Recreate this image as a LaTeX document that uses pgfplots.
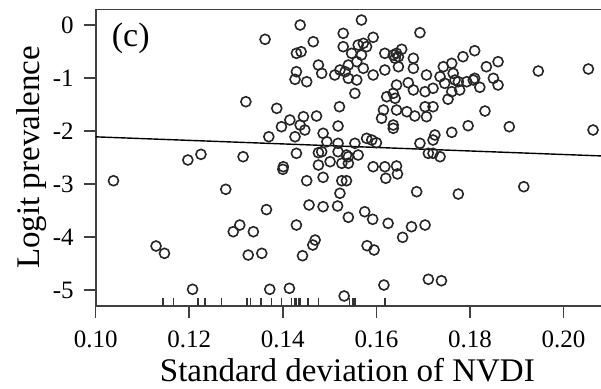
\documentclass[border=0pt]{standalone}
\usepackage{pgfplots}
\pgfplotsset{compat=1.18}
\usepackage{pgfplotstable}
\usepackage{fontspec}
\setmainfont{Liberation Serif}

\pgfplotstableread{
x y
0.1362 -0.27
0.1321 -1.447
0.1370 -2.108
0.1197 -2.547
0.1225 -2.44
0.1315 -2.485
0.1437 0.0
0.1568 0.094
0.1529 -0.157
0.1593 -0.232
0.1465 -0.315
0.1693 -0.145
0.1429 -0.534
0.1439 -0.504
0.1529 -0.409
0.1561 -0.377
0.1572 -0.345
0.1579 -0.409
0.1547 -0.534
0.1568 -0.566
0.1558 -0.692
0.1618 -0.534
0.1636 -0.566
0.1643 -0.534
0.1654 -0.458
0.1640 -0.628
0.1647 -0.598
0.1679 -0.628
0.1476 -0.755
0.1429 -0.881
0.1483 -0.911
0.1511 -0.943
0.1522 -0.849
0.1540 -0.755
0.1533 -0.881
0.1572 -0.817
0.1593 -0.943
0.1618 -0.849
0.1647 -0.787
0.1679 -0.817
0.1707 -0.943
0.1426 -1.025
0.1451 -1.07
0.1540 -1.006
0.1558 -1.038
0.1554 -1.289
0.1643 -1.132
0.1668 -1.089
0.1622 -1.353
0.1636 -1.289
0.1640 -1.383
0.1679 -1.226
0.1704 -1.258
0.1387 -1.572
0.1521 -1.542
0.1615 -1.604
0.1643 -1.604
0.1665 -1.636
0.1704 -1.542
0.1611 -1.760
0.1682 -1.717
0.1707 -1.730
0.1415 -1.792
0.1444 -1.730
0.1472 -1.717
0.1397 -1.919
0.1437 -1.887
0.1447 -1.981
0.1518 -1.906
0.1636 -1.887
0.1636 -1.949
0.1426 -2.108
0.1486 -2.043
0.1579 -2.138
0.1590 -2.170
0.1600 -2.221
0.1693 -2.232
0.1494 -2.202
0.1518 -2.232
0.1554 -2.232
0.1429 -2.421
0.1476 -2.409
0.1483 -2.391
0.1518 -2.391
0.1536 -2.453
0.1540 -2.485
0.1561 -2.453
0.1401 -2.674
0.1476 -2.642
0.1501 -2.579
0.1526 -2.609
0.1540 -2.609
0.1593 -2.674
0.1618 -2.674
0.1643 -2.660
0.1711 -2.421
0.1810 -0.485
0.1785 -0.598
0.1761 -0.723
0.1743 -0.787
0.1860 -0.692
0.1835 -0.787
0.1946 -0.868
0.2053 -0.830
0.1736 -0.975
0.1746 -1.100
0.1764 -0.911
0.1768 -1.038
0.1775 -1.070
0.1793 -1.070
0.1807 -1.038
0.1810 -1.006
0.1850 -1.006
0.1860 -1.132
0.1821 -1.175
0.1721 -1.194
0.1761 -1.258
0.1778 -1.226
0.1753 -1.400
0.1721 -1.542
0.1832 -1.623
0.1796 -1.900
0.1761 -2.025
0.1884 -1.919
0.2063 -1.981
0.1725 -2.075
0.1721 -2.170
0.1721 -2.421
0.1736 -2.485
0.1038 -2.938
0.1278 -3.100
0.1365 -3.483
0.1308 -3.774
0.1294 -3.900
0.1337 -3.900
0.1129 -4.170
0.1147 -4.308
0.1326 -4.340
0.1355 -4.308
0.1207 -4.987
0.1372 -4.987
0.1400 -2.723
0.1645 -2.81
0.1451 -2.938
0.1486 -2.874
0.1526 -2.938
0.1536 -2.938
0.1620 -2.892
0.1522 -3.175
0.1686 -3.145
0.1456 -3.396
0.1486 -3.428
0.1517 -3.415
0.1540 -3.628
0.1575 -3.523
0.1592 -3.666
0.1625 -3.742
0.1675 -3.806
0.1704 -3.774
0.1429 -3.774
0.1656 -4.006
0.1469 -4.057
0.1464 -4.151
0.1442 -4.353
0.1580 -4.164
0.1595 -4.245
0.1711 -4.798
0.1414 -4.968
0.1616 -4.906
0.1531 -5.113
0.1775 -3.189
0.1915 -3.051
0.1739 -4.825
}\points

\pgfplotstableread{
x y
0.1144 -5.226
0.1166 -5.226
0.1219 -5.226
0.1234 -5.226
0.1269 -5.226
0.1323 -5.226
0.1331 -5.226
0.1353 -5.226
0.1376 -5.226
0.1397 -5.226
0.1419 -5.226
0.1426 -5.226
0.1429 -5.226
0.1433 -5.226
0.1437 -5.226
0.1454 -5.226
0.1476 -5.226
0.1543 -5.226
0.1550 -5.226
0.1554 -5.226
0.1618 -5.226
}\rug

\begin{document}
\begin{tikzpicture}
\begin{axis}[
  scale only axis,
  width=252.65pt, height=148.5pt,
  xmin=0.10, xmax=0.208, ymin=-5.302, ymax=0.302,
  axis x line*=bottom, axis y line*=left,
  axis line style={-, draw=black!75, line width=0.9pt},
  tick align=outside,
  major tick length=6pt,
  tick style={black!75, line width=0.8pt},
  xtick={0.10,0.12,0.14,0.16,0.18,0.20},
  xticklabels={0.10,0.12,0.14,0.16,0.18,0.20},
  ytick={-5,-4,-3,-2,-1,0},
  yticklabels={-5,-4,-3,-2,-1,0},
  tick label style={font=\fontsize{12.5}{14}\selectfont},
  xticklabel style={yshift=-3pt},
  yticklabel style={xshift=-1.5pt},
  xlabel={Standard deviation of NVDI},
  ylabel={Logit prevalence},
  label style={font=\fontsize{16.5}{18}\selectfont},
  xlabel style={at={(axis description cs:0.498,-0.2155)}, anchor=center},
  ylabel style={at={(axis description cs:-0.126,0.5)}, anchor=center},
]
\draw[black!75, line width=0.9pt] (rel axis cs:0,1) -- (rel axis cs:1,1);
\addplot[only marks, mark=o, mark size=2.5pt, mark options={line width=0.8pt, draw=black!85}] table[x=x,y=y] {\points};
\addplot[black, line width=0.7pt] coordinates {(0.10,-2.11) (0.208,-2.47)};
\addplot[only marks, mark=|, mark size=2pt, mark options={line width=0.7pt, draw=black!80}] table[x=x,y=y] {\rug};
\node[font=\fontsize{17}{19}\selectfont] at (axis cs:0.1075,-0.245) {(c)};
\end{axis}
\pgfresetboundingbox
\path (-47.85pt,-41pt) rectangle (252.65pt,153pt);
\end{tikzpicture}
\end{document}
